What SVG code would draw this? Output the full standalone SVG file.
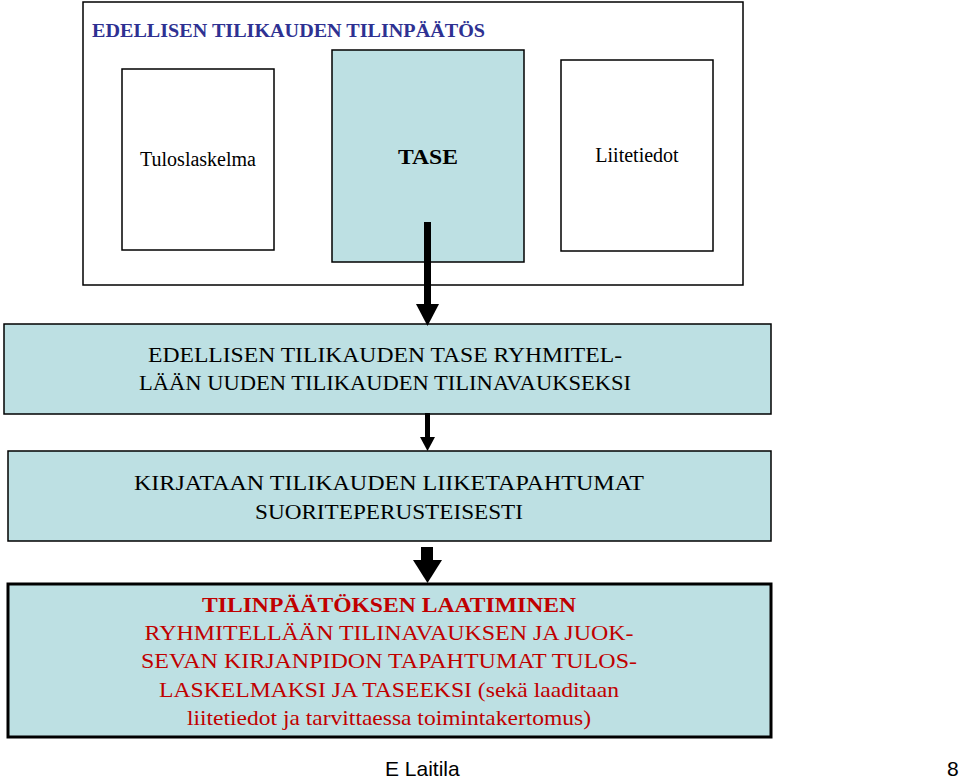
<svg xmlns="http://www.w3.org/2000/svg" width="960" height="779" viewBox="0 0 960 779">
<style>
.b{stroke:#000;stroke-width:1.5}
.t{font-family:"Liberation Serif",serif;font-size:20px;fill:#000;text-anchor:middle}
.r{font-family:"Liberation Serif",serif;font-size:21px;fill:#c00000;text-anchor:middle}
</style>
<rect width="960" height="779" fill="#fff"/>
<g id="outer"><rect class="b" x="83" y="2" width="660" height="283" fill="#fff"/>
<text x="92" y="37" font-family="Liberation Serif,serif" font-size="19" font-weight="bold" fill="#2e3192" textLength="393" lengthAdjust="spacingAndGlyphs">EDELLISEN TILIKAUDEN TILINPÄÄTÖS</text></g>
<g id="tulos"><rect class="b" x="122" y="69" width="152" height="181" fill="#fff"/><text class="t" x="198" y="166" font-size="14">Tuloslaskelma</text></g>
<g id="tase"><rect class="b" x="332" y="50" width="192" height="212" fill="#bde0e3"/><text class="t" x="428" y="164" font-size="22" font-weight="bold" textLength="60" lengthAdjust="spacingAndGlyphs">TASE</text></g>
<g id="liite"><rect class="b" x="561" y="60" width="152" height="191" fill="#fff"/><text class="t" x="637" y="162" font-size="14">Liitetiedot</text></g>
<g id="box2"><rect class="b" x="4" y="324" width="767" height="90" fill="#bde0e3"/>
<text class="t" x="385" y="362" textLength="474" lengthAdjust="spacingAndGlyphs">EDELLISEN TILIKAUDEN TASE RYHMITEL-</text><text class="t" x="385" y="390" textLength="492" lengthAdjust="spacingAndGlyphs">LÄÄN UUDEN TILIKAUDEN TILINAVAUKSEKSI</text></g>
<g id="box3"><rect class="b" x="8" y="451" width="763" height="90" fill="#bde0e3"/>
<text class="t" x="389" y="490" textLength="510" lengthAdjust="spacingAndGlyphs">KIRJATAAN TILIKAUDEN LIIKETAPAHTUMAT</text><text class="t" x="389" y="519" textLength="268" lengthAdjust="spacingAndGlyphs">SUORITEPERUSTEISESTI</text></g>
<g id="box4"><rect x="8" y="584" width="763" height="153" fill="#bde0e3" stroke="#000" stroke-width="3"/>
<text class="r" x="389" y="612" font-weight="bold" textLength="374" lengthAdjust="spacingAndGlyphs">TILINPÄÄTÖKSEN LAATIMINEN</text>
<text class="r" x="389" y="640" textLength="489" lengthAdjust="spacingAndGlyphs">RYHMITELLÄÄN TILINAVAUKSEN JA JUOK-</text>
<text class="r" x="389" y="668" textLength="496" lengthAdjust="spacingAndGlyphs">SEVAN KIRJANPIDON TAPAHTUMAT TULOS-</text>
<text class="r" x="389" y="697" textLength="460" lengthAdjust="spacingAndGlyphs">LASKELMAKSI JA TASEEKSI (sekä laaditaan</text>
<text class="r" x="389" y="725" textLength="404" lengthAdjust="spacingAndGlyphs">liitetiedot ja tarvittaessa toimintakertomus)</text></g>
<g id="connectors" fill="#000">
<rect x="424" y="222" width="7" height="83"/><polygon points="416,304 439,304 427.5,326"/>
<rect x="425" y="413" width="5" height="25"/><polygon points="420,437 435,437 427.5,451"/>
<rect x="421" y="547" width="12" height="14"/><polygon points="413,560 442,560 427.5,583"/>
</g>
<text x="385" y="776" font-family="Liberation Sans,sans-serif" font-size="21">E Laitila</text>
<text x="947" y="776" font-family="Liberation Sans,sans-serif" font-size="21">8</text>
</svg>
